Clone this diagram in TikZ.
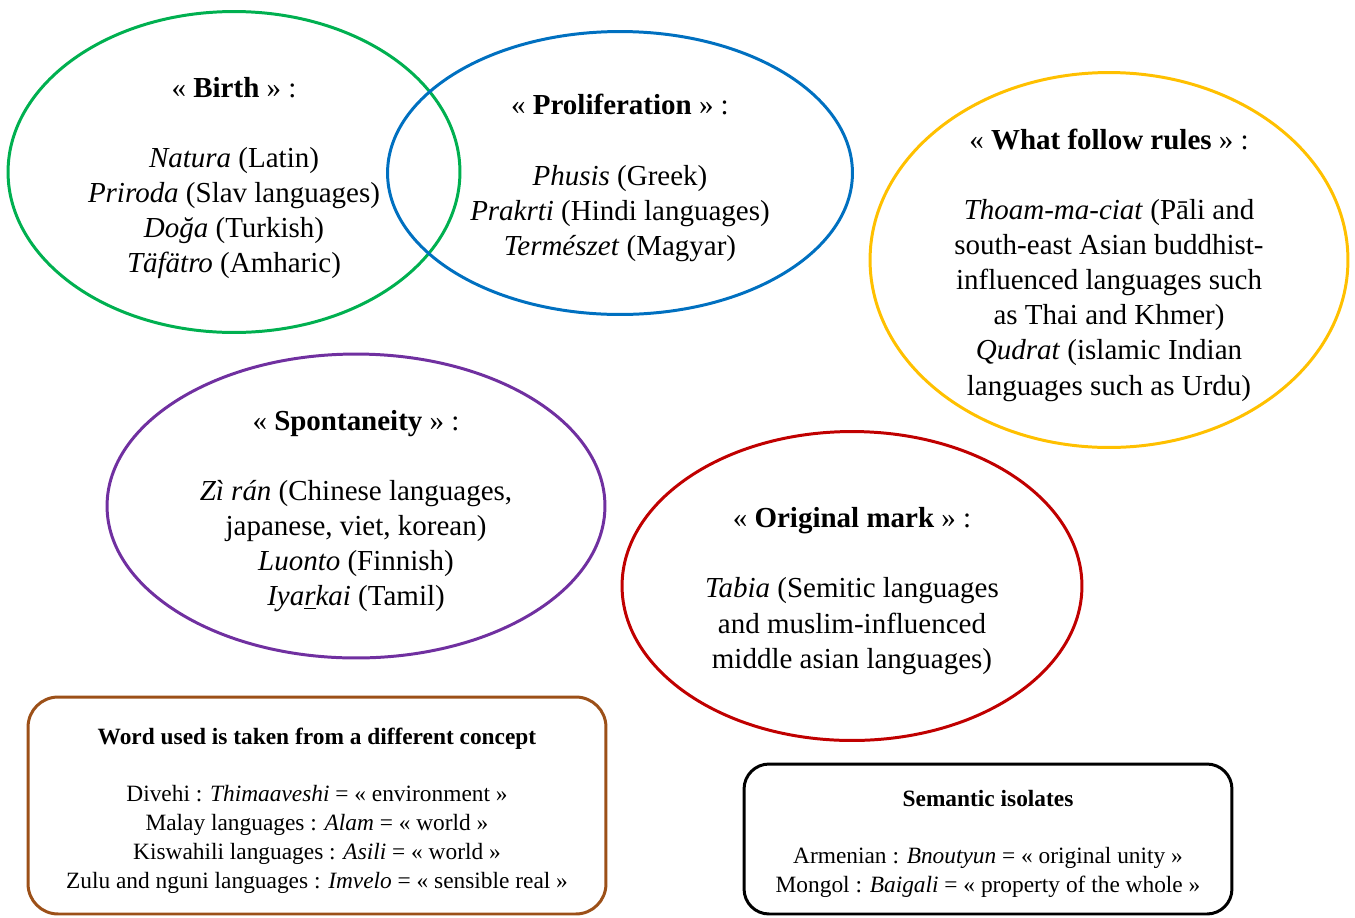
\documentclass[tikz,border=0pt]{standalone}
\usepackage{fontspec}
\setmainfont{Liberation Serif}
\usetikzlibrary{shapes.geometric}
\definecolor{ringgreen}{RGB}{0,176,80}
\definecolor{ringblue}{RGB}{0,112,192}
\definecolor{ringyellow}{RGB}{255,192,0}
\definecolor{ringpurple}{RGB}{112,48,160}
\definecolor{ringred}{RGB}{192,0,0}
\definecolor{boxbrown}{RGB}{156,80,24}

\begin{document}
\begin{tikzpicture}[x=0.02cm,y=-0.02cm,
ring/.style={draw=#1,ellipse,line width=1.7pt,inner sep=0pt},
txt/.style={align=center,font=\fontsize{16.5}{20}\selectfont},
smalltxt/.style={align=center,font=\fontsize{13.3}{16.5}\selectfont},
framebox/.style={draw=#1,rounded corners=0.6cm,line width=1.7pt,inner sep=0pt}]

\useasboundingbox (0,0) rectangle (1355,917);

% the five concepts
\node[ring=ringgreen,minimum width=9.04cm,minimum height=6.42cm] (birth) at (234,172) {};
\node[ring=ringblue,minimum width=9.30cm,minimum height=5.66cm] (prolif) at (620,173) {};
\node[ring=ringyellow,minimum width=9.56cm,minimum height=7.50cm] (rules) at (1109,260) {};
\node[ring=ringpurple,minimum width=9.96cm,minimum height=6.08cm] (spont) at (356,506) {};
\node[ring=ringred,minimum width=9.20cm,minimum height=6.18cm] (mark) at (852,586) {};

\node[txt] (birthtxt) at (234,178) {« \textbf{Birth} » :\\[0.7cm]
\textit{Natura} (Latin)\\ \textit{Priroda} (Slav languages)\\
\textit{Doğa} (Turkish)\\ \textit{Täfätro} (Amharic)};

\node[txt] (prociftxt) at (620,178) {« \textbf{Proliferation} » :\\[0.7cm]
\textit{Phusis} (Greek)\\ \textit{Prakrti} (Hindi languages)\\
\textit{Természet} (Magyar)};

\node[txt] (rulestxt) at (1109,265) {« \textbf{What follow rules} » :\\[0.7cm]
\textit{Thoam-ma-ciat} (Pāli and\\ south-east Asian buddhist-\\
influenced languages such\\ as Thai and Khmer)\\
\textit{Qudrat} (islamic Indian\\ languages such as Urdu)};

\node[txt] (sponttxt) at (356,511) {« \textbf{Spontaneity} » :\\[0.7cm]
\textit{Zì rán} (Chinese languages,\\ japanese, viet, korean)\\
\textit{Luonto} (Finnish)\\ \textit{Iya\underline{r}kai} (Tamil)};

\node[txt] (marktxt) at (852,591) {« \textbf{Original mark} » :\\[0.7cm]
\textit{Tabia} (Semitic languages\\ and muslim-influenced\\
middle asian languages)};

% the two boxes
\node[framebox=boxbrown,minimum width=11.56cm,minimum height=4.34cm] (borrowed) at (317,805.5) {};
\node[framebox=black,rounded corners=0.5cm,minimum width=9.76cm,minimum height=3.0cm] (isolates) at (988,839) {};

\node[smalltxt] (borrowedtxt) at (317,811) {\textbf{Word used is taken from a different concept}\\[0.55cm]
Divehi : \textit{Thimaaveshi} = « environment »\\
Malay languages : \textit{Alam} = « world »\\
Kiswahili languages : \textit{Asili} = « world »\\
Zulu and nguni languages : \textit{Imvelo} = « sensible real »};

\node[smalltxt] (isolatestxt) at (988,844) {\textbf{Semantic isolates}\\[0.55cm]
Armenian : \textit{Bnoutyun} = « original unity »\\
Mongol : \textit{Baigali} = « property of the whole »};

\end{tikzpicture}
\end{document}
